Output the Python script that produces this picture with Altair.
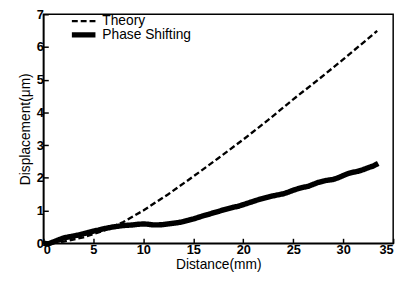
import altair as alt
import pandas as pd

# Theory curve
theory_distance = [0, 2, 4, 6, 8, 10, 12.5, 15, 17.5, 20, 22.5, 25, 27.5, 30, 33.4]
theory_disp = [0, 0.05, 0.18, 0.38, 0.65, 1.0, 1.5, 2.04, 2.6, 3.17, 3.77, 4.4, 5.0, 5.62, 6.49]

# Phase shifting measurement
ps_distance = [0, 0.5, 1.0, 1.5, 2.0, 2.5, 3.0, 3.5, 4.0, 4.5, 5.0, 5.5, 6.0, 6.5, 7.0,
               7.5, 8.0, 8.5, 9.0, 9.5, 10.0, 10.5, 11.0, 11.5, 12.0, 12.5, 13.0, 13.5,
               14.0, 14.5, 15.0, 15.5, 16.0, 16.5, 17.0, 17.5, 18.0, 18.5, 19.0, 19.5,
               20.0, 20.5, 21.0, 21.5, 22.0, 22.5, 23.0, 23.5, 24.0, 24.5, 25.0, 25.5,
               26.0, 26.5, 27.0, 27.5, 28.0, 28.5, 29.0, 29.5, 30.0, 30.5, 31.0, 31.5,
               32.0, 32.5, 33.0, 33.5]
ps_disp = [0.0, -0.02, 0.04, 0.10, 0.16, 0.19, 0.22, 0.25, 0.29, 0.33, 0.37, 0.40, 0.44,
           0.47, 0.50, 0.52, 0.54, 0.55, 0.56, 0.58, 0.59, 0.58, 0.56, 0.56, 0.57, 0.59,
           0.61, 0.63, 0.66, 0.70, 0.74, 0.79, 0.84, 0.88, 0.93, 0.97, 1.02, 1.06, 1.10,
           1.13, 1.18, 1.23, 1.28, 1.33, 1.37, 1.41, 1.45, 1.48, 1.51, 1.56, 1.62, 1.67,
           1.71, 1.74, 1.80, 1.86, 1.90, 1.93, 1.95, 2.00, 2.07, 2.13, 2.17, 2.20, 2.25,
           2.31, 2.36, 2.44]

series_names = ["Theory", "Phase Shifting"]
x_ticks = [0, 5, 10, 15, 20, 25, 30, 35]
y_ticks = [0, 1, 2, 3, 4, 5, 6, 7]

df = pd.concat([
    pd.DataFrame({"Distance": theory_distance, "Disp": theory_disp, "Series": series_names[0]}),
    pd.DataFrame({"Distance": ps_distance, "Disp": ps_disp, "Series": series_names[1]}),
])

FONT = "Liberation Sans"

legend = alt.Legend(title=None, orient="none", legendX=26, legendY=0, padding=0,
                    symbolType="stroke", symbolSize=576, symbolStrokeColor="black",
                    labelFont=FONT, labelFontSize=14, labelColor="black",
                    labelOffset=4, rowPadding=0, clipHeight=14, symbolOffset=0)

chart = alt.Chart(df).mark_line(color="black").encode(
    x=alt.X("Distance:Q", title="Distance(mm)",
            scale=alt.Scale(domain=[0, 35], nice=False),
            axis=alt.Axis(values=x_ticks, grid=False)),
    y=alt.Y("Disp:Q", title="Displacement(μm)",
            scale=alt.Scale(domain=[0, 7], nice=False),
            axis=alt.Axis(values=y_ticks, grid=False)),
    strokeDash=alt.StrokeDash("Series:N",
        scale=alt.Scale(domain=series_names, range=[[6, 3], [1, 0]]),
        legend=legend),
    strokeWidth=alt.StrokeWidth("Series:N",
        scale=alt.Scale(domain=series_names, range=[2.4, 5.5]),
        legend=legend),
    detail="Series:N",
).properties(
    width=356, height=233,
    autosize=alt.AutoSizeParams(type="none"),
    padding={"left": 36, "top": 4, "right": 10, "bottom": 33},
).configure_view(
    stroke="black", strokeWidth=1.5
).configure_axis(
    domainColor="black", domainWidth=1.5, tickColor="black", tickWidth=1.5,
    labelColor="black", titleColor="black",
    labelFont=FONT, titleFont=FONT, labelFontSize=13, titleFontSize=14,
    labelFontWeight="bold", titleFontWeight="normal",
    tickSize=alt.ExprRef(expr="-5"),
).configure_axisX(
    labelPadding=5, titlePadding=2
).configure_axisY(
    labelPadding=5, titlePadding=4
)

chart.save("out.html", embed_options={"renderer": "svg", "actions": False})
